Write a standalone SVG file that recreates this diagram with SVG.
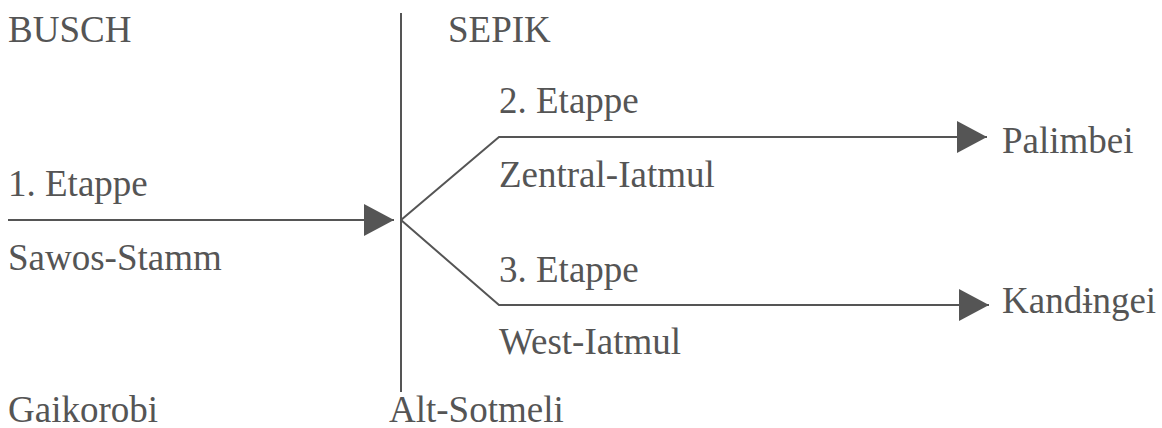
<svg xmlns="http://www.w3.org/2000/svg" width="1162" height="428" viewBox="0 0 1162 428">
<defs>
<style>
text{font-family:"Liberation Serif","Times New Roman",serif;font-size:37px;fill:#555}
.ln{stroke:#555;stroke-width:2;fill:none}
.ah{fill:#555}
</style>
<marker id="arr" markerWidth="30" markerHeight="32" refX="30" refY="16" orient="auto" markerUnits="userSpaceOnUse">
<path class="ah" d="M0,0 L30,16 L0,32 Z"/>
</marker>
</defs>
<rect width="1162" height="428" fill="#fff"/>
<g id="connectors">
<line class="ln" x1="401" y1="13" x2="401" y2="392"/>
<line class="ln" x1="8" y1="220" x2="394" y2="220" marker-end="url(#arr)"/>
<polyline class="ln" points="401,220 499,137 987,137" marker-end="url(#arr)"/>
<polyline class="ln" points="401,220 499,305 989,305" marker-end="url(#arr)"/>
</g>
<g id="busch"><text x="8" y="42">BUSCH</text></g>
<g id="sepik"><text x="448" y="42">SEPIK</text></g>
<g id="etappe1"><text x="8" y="196">1. Etappe</text></g>
<g id="sawos"><text x="8" y="270">Sawos-Stamm</text></g>
<g id="gaikorobi"><text x="8" y="422">Gaikorobi</text></g>
<g id="altsotmeli"><text x="389" y="422">Alt-Sotmeli</text></g>
<g id="etappe2"><text x="499" y="113">2. Etappe</text></g>
<g id="zentral"><text x="499" y="187">Zentral-Iatmul</text></g>
<g id="etappe3"><text x="499" y="282">3. Etappe</text></g>
<g id="west"><text x="499" y="354">West-Iatmul</text></g>
<g id="palimbei"><text x="1002" y="153">Palimbei</text></g>
<g id="kandingei"><text x="1002" y="313">Kandɨngei</text></g>
</svg>
